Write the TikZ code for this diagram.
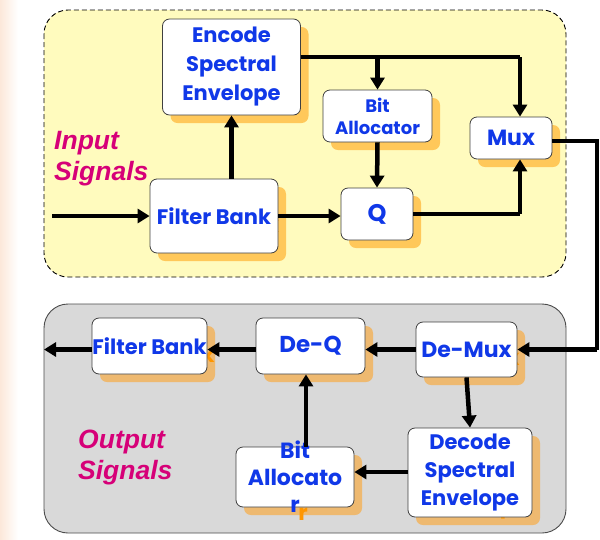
\documentclass[tikz,border=0pt]{standalone}
\usepackage{fontspec}
\setmainfont{Poppins}
\newfontfamily\labfont{Liberation Sans}
\usetikzlibrary{arrows.meta,calc}
\definecolor{txtblue}{RGB}{16,56,232}
\definecolor{labmag}{RGB}{214,0,120}
\definecolor{panelyel}{RGB}{255,251,190}
\definecolor{panelgray}{RGB}{217,217,217}
\definecolor{shadowtop}{RGB}{255,200,90}
\definecolor{shadowbot}{RGB}{238,185,112}
\definecolor{shadowtxt}{RGB}{255,150,0}
\definecolor{peach}{RGB}{252,232,218}
\tikzset{
  box/.style={draw=black!75, line width=0.8pt, fill=white, rounded corners=7pt, inner sep=0pt},
  shadowbox/.style={fill=\shcol, rounded corners=7pt, inner sep=0pt},
  txt/.style={text=txtblue, align=center, inner sep=0pt},
  shtxt/.style={text=shadowtxt, align=center, inner sep=0pt},
  flow/.style={line width=4.5pt, -{Triangle[length=12pt,width=14pt]}},
  seg/.style={line width=4.5pt},
  siglabel/.style={text=labmag, font={\labfont\bfseries\itshape\fontsize{26.5}{31}\selectfont}, align=left, inner sep=0pt, anchor=north west}
}
\newcommand\shcol{shadowtop}
\newcommand\bxfont[2]{\bfseries\fontsize{#1}{#2}\selectfont}
% #1 name, #2 center, #3 width, #4 height, #5 font, #6 text
\newcommand\blockbox[6]{%
  \node[shadowbox, minimum width=#3, minimum height=#4] (#1-sh) at ($(#2)+(8,8)$) {};
  \node[shtxt, font=#5] (#1-shtext) at ($(#2)+(8,8)$) {#6};
  \node[box, minimum width=#3, minimum height=#4] (#1) at (#2) {};
  \node[txt, font=#5] (#1-text) at (#2) {#6};
}
\begin{document}
\begin{tikzpicture}[x=1pt,y=-1pt]
\useasboundingbox (0,0) rectangle (600,539);
\fill[white] (0,0) rectangle (600,539);
\shade[left color=peach, right color=white] (0,0) rectangle (18,539);
% panels
\draw[line width=0.9pt, fill=panelyel, rounded corners=24pt, dash pattern=on 5pt off 3pt] (44,10) rectangle (566,277);
\draw[line width=0.9pt, draw=black!70, fill=panelgray, rounded corners=24pt] (44,304) rectangle (566,533);
% top blocks
\renewcommand\shcol{shadowtop}
\blockbox{enc}{231.5,67}{138pt}{96pt}{\bxfont{21}{29}}{Encode\\Spectral\\Envelope}
\blockbox{bita}{377.5,116}{109pt}{52pt}{\bxfont{18}{22}}{Bit\\Allocator}
\blockbox{mux}{511,138}{82pt}{42pt}{\bxfont{22}{24}}{Mux}
\blockbox{fbt}{214,216}{128pt}{74pt}{\bxfont{21}{24}}{Filter Bank}
\blockbox{q}{377,214}{72pt}{52pt}{\bxfont{24}{24}}{Q}
% bottom blocks
\renewcommand\shcol{shadowbot}
\blockbox{fbb}{149.5,346}{115pt}{56pt}{\bxfont{21}{24}}{Filter Bank}
\blockbox{deq}{310.5,346}{109pt}{56pt}{\bxfont{23}{24}}{De-Q}
\blockbox{demux}{466.5,349.5}{101pt}{55pt}{\bxfont{22}{24}}{De-Mux}
\blockbox{dec}{470,472.5}{124pt}{89pt}{\bxfont{21}{28}}{Decode\\Spectral\\Envelope}
\blockbox{bitb}{295,477}{118pt}{60pt}{\bxfont{22}{27}}{Bit\\Allocato\\r}
% labels
\node[siglabel] (inlab) at (54,131) {Input\\Signals};
\node[siglabel] (outlab) at (78,430) {Output\\Signals};
% top connectors
\coordinate (inStart) at (52,216);
\draw[flow] (inStart) -- (fbt.west);
\draw[flow] (fbt.east) -- (fbt.east -| q.west);
\draw[flow] (fbt.north -| enc.south) -- (enc.south);
\coordinate (topCorner) at (520,57);
\coordinate (branch) at (377.5,57);
\draw[seg] (enc.east |- topCorner) -- (topCorner);
\draw[flow] (topCorner) -- (topCorner |- mux.north);
\draw[flow] (branch) -- (bita.north);
\draw[flow] (bita.south) -- (q.north);
\coordinate (qCorner) at (520,214);
\draw[seg] (q.east) -- (qCorner);
\draw[flow] (qCorner) -- (qCorner |- mux.south);
\coordinate (fbA) at (597,141);
\coordinate (fbB) at (597,349.5);
\draw[seg, line join=miter] (mux.east |- fbA) -- (fbA) -- (fbB);
\draw[flow] (fbB) -- (demux.east);
% bottom connectors
\draw[flow] (demux.west) -- (demux.west -| deq.east);
\draw[flow] (deq.west |- demux.west) -- (fbb.east |- demux.west);
\coordinate (outEnd) at (44,349.5);
\draw[flow] (fbb.west |- outEnd) -- (outEnd);
\draw[flow] (demux.south) -- (dec.north);
\draw[flow] (dec.west |- 0,472) -- (bitb.east |- 0,472);
\draw[flow] ($(bitb.north)+(11,0)$) -- ($(deq.south)+(-4.5,0)$);
\end{tikzpicture}
\end{document}
